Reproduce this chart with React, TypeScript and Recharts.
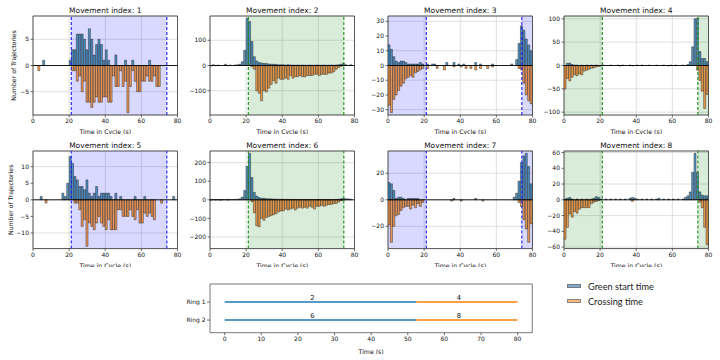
import React from 'react';
import {
  BarChart, Bar, XAxis, YAxis, CartesianGrid, ReferenceArea, ReferenceLine,
  LineChart, Line, ReferenceDot,
} from 'recharts';

// ---------------- data ----------------
const timeTicks = [0, 20, 40, 60, 80];
const cycleLength = 80;
const binWidth = 4 / 3;
const greenStart = 21.2;
const greenEnd = 74.1;

// 60 bins of 4/3 s each over the 80 s cycle
const m1Green = [0,0,0,0,1,0,0,0,0,0, 0,0,0,0,0,1,3,3,6,6, 6,5,3,7,5,2,4,5,4,1, 3,1,0,0,2,0,0,0,1,0, 0,1,0,0,0,0,0,0,1,0, 0,0,0,0,0,0,0,0,0,0];
const m1Cross = [0,0,-1,0,0,0,0,0,0,0, 0,0,0,0,0,0,-1,-1,-3,-2, -5,-3,-7,-7,-8,-7,-6,-7,-7,-6, -6,-7,-7,-2,-4,-4,-1,-4,-3,-9, -4,-1,-3,-5,-5,-3,-3,-2,-3,-3, -2,-4,-4,0,0,0,0,0,0,0];

const m2Green = [0,3,0,2,0,0,5,0,2,0, 2,3,5,15,60,187,175,95,35,18, 12,10,8,8,6,5,5,4,3,3, 3,2,3,2,2,1,2,1,2,1, 1,2,1,1,2,1,1,2,1,1, 2,1,2,3,5,8,3,0,3,0];
const m2Cross = [-2,0,-1,0,0,0,0,-1,0,0, 0,0,0,0,0,0,0,-5,-15,-100, -110,-140,-100,-105,-90,-75,-60,-70,-50,-55, -55,-50,-55,-40,-50,-45,-45,-40,-45,-45, -40,-40,-40,-35,-35,-40,-35,-35,-35,-30, -30,-25,-15,-8,-3,-2,0,0,0,0];

const m3Green = [14,11,6,3,2,3,3,2,1,1, 1,1,1,2,1,0,1,0,1,1, 0,0,0,0,2,0,0,2,0,1, 0,1,0,0,0,0,2,0,1,0, 0,0,0,1,0,0,0,0,0,0, 0,1,0,4,15,27,24,18,14,10];
const m3Cross = [-27,-32,-23,-20,-17,-14,-12,-9,-8,-7, -8,-5,-4,-3,-2,0,-2,0,0,0, -2,0,0,-3,0,0,0,-1,0,0, -1,0,-2,0,-2,0,-3,0,-2,0, 0,-2,0,-1,0,0,0,0,0,0, 0,0,0,0,-2,-3,-12,-20,-24,-26];

const m4Green = [0,5,5,2,1,1,0,1,0,1, 0,1,0,1,0,0,1,0,0,1, 0,0,1,0,1,0,0,1,0,0, 1,0,1,0,0,1,0,0,1,0, 0,1,0,0,1,0,1,0,0,1, 0,2,8,40,100,101,30,15,15,8];
const m4Cross = [-50,-28,-33,-25,-20,-22,-18,-20,-12,-10, -8,-6,-5,-3,-2,-1,0,0,0,0, 0,0,0,-1,0,0,0,0,-1,0, 0,0,0,0,0,0,0,0,0,0, 0,0,0,-1,0,0,0,0,0,0, 0,0,0,0,0,-10,-32,-55,-92,-62];

const m5Green = [0,0,0,1,0,0,0,0,0,0, 0,0,2,1,5,13,11,7,6,4, 4,3,6,2,1,2,4,1,2,2, 2,2,1,0,2,0,1,0,0,0, 0,0,1,0,0,0,1,0,0,0, 0,0,0,0,0,0,0,0,1,0];
const m5Cross = [0,0,0,0,0,-1,0,0,0,0, 0,0,0,0,0,0,0,-1,-1,-3, -8,-6,-14,-7,-8,-9,-7,-5,-7,-8, -9,-6,-9,-9,-9,-3,-3,-5,-5,-5, -3,-5,-6,-3,-7,-7,-4,-5,-4,-5, -6,0,0,-1,0,0,0,0,0,0];

const m6Green = [2,1,2,1,1,2,1,2,2,1, 2,3,5,15,50,180,250,120,40,20, 12,8,8,6,5,5,4,4,3,3, 3,2,3,2,2,2,1,2,1,2, 1,2,1,1,2,1,2,1,1,2, 1,2,2,3,5,8,5,5,3,0];
const m6Cross = [-2,0,-1,0,-2,0,0,-1,0,0, 0,0,0,0,0,0,0,-10,-70,-140, -145,-100,-110,-95,-90,-85,-80,-75,-65,-60, -60,-50,-55,-50,-45,-55,-45,-40,-45,-40, -45,-35,-40,-50,-35,-35,-30,-35,-30,-25, -25,-20,-20,-12,-5,-2,0,0,0,0];

const m7Green = [13,12,7,1,2,2,1,0,1,1, 1,1,1,0,0,0,0,0,0,0, 0,0,0,0,0,0,0,1,0,0, 0,0,0,0,0,0,1,0,0,0, 0,0,0,0,0,0,0,0,0,0, 0,0,2,5,14,28,33,35,25,12];
const m7Cross = [-19,-32,-20,-12,-11,-8,-6,-5,-5,-7, -4,-6,-3,-5,-2,0,0,0,0,0, 0,0,0,0,0,0,-1,0,0,0, -1,0,0,0,0,0,0,0,0,-1, 0,0,0,0,0,0,0,0,0,0, 0,0,0,0,-2,-5,-15,-22,-32,-18];

const m8Green = [1,2,3,1,0,1,0,1,0,1, 0,1,2,4,3,1,0,1,0,1, 0,1,0,1,0,1,0,2,3,2, 1,0,1,0,1,0,1,0,1,2, 0,1,0,1,0,1,0,1,0,1, 3,5,10,35,59,35,10,6,5,5];
const m8Cross = [-50,-35,-18,-22,-15,-17,-12,-10,-10,-10, -10,-5,-3,-2,-1,0,0,0,0,0, 0,0,0,0,0,0,0,0,-2,0, 0,0,0,0,0,0,0,0,0,0, 0,0,0,0,0,0,0,0,0,0, 0,0,0,0,0,0,-3,-10,-35,-57];

const m1Ticks = [-5, 0, 5];
const m2Ticks = [-100, 0, 100];
const m3Ticks = [-30, -20, -10, 0, 10, 20, 30];
const m4Ticks = [-100, -50, 0, 50, 100];
const m5Ticks = [-10, -5, 0, 5, 10];
const m6Ticks = [-200, -100, 0, 100, 200];
const m7Ticks = [-20, 0, 20];
const m8Ticks = [-60, -40, -20, 0, 20, 40, 60];

// ring diagram
const ringTimeTicks = [0, 10, 20, 30, 40, 50, 60, 70, 80];
const ringNames = [1, 2];
const ring1Phases = ['2', '4'];
const ring2Phases = ['6', '8'];
const phaseSplit = 52.3;

// ---------------- styling ----------------
const FONT = '"DejaVu Sans", sans-serif';
const TXT = '#111';
const BLUE = '#1f77b4';
const ORANGE = '#ff7f0e';

const fmt = (v: number) => (v < 0 ? '\u2212' + Math.abs(v) : String(v));

type PanelProps = {
  idx: number;
  green: number[];
  crossing: number[];
  yTicks: number[];
  color: 'blue' | 'green';
  inside: boolean;
  left: number;
  top: number;
  plotH: number;
  yLabelX?: number;
};

function Panel({ idx, green, crossing, yTicks, color, inside, left, top, plotH, yLabelX }: PanelProps) {
  const d = Math.max(...green.map(Math.abs), ...crossing.map(Math.abs)) * 1.05;
  const data = green.map((g, i) => ({ t: (i + 0.5) * binWidth, g, c: crossing[i] }));
  const YW = 30, MT = 14, MR = 4, XH = 19, PW = 144.5;
  const chartLeft = left - YW;
  const chartTop = top - MT;
  const shadeFill = color === 'blue' ? '#0000ff' : '#008000';
  const lineColor = color === 'blue' ? '#1a1aff' : '#1a8a1a';
  const areas: [number, number][] = inside
    ? [[greenStart, greenEnd]]
    : [[0, greenStart], [greenEnd, cycleLength]];
  const tickStyle = { fontSize: 6, fill: TXT, fontFamily: FONT };
  const yLabel = yLabelX !== undefined
    ? {
        content: () => {
          const cx = yLabelX - chartLeft;
          const cy = MT + plotH / 2;
          return (
            <text x={cx} y={cy} transform={`rotate(-90 ${cx} ${cy})`} textAnchor="middle"
              dominantBaseline="central" fontSize={6.2} fontFamily={FONT} fill={TXT}>
              Number of Trajectories
            </text>
          );
        },
      }
    : undefined;
  return (
    <div style={{ position: 'absolute', left: chartLeft, top: chartTop }}>
      <BarChart width={YW + PW + MR} height={MT + plotH + XH} data={data}
        margin={{ top: MT, right: MR, bottom: 0, left: 0 }}
        stackOffset="sign" barCategoryGap={0} barGap={0}>
        <CartesianGrid stroke="#d2d2d2" strokeWidth={0.7} />
        <XAxis dataKey="t" type="number" domain={[0, cycleLength]} ticks={timeTicks}
          allowDataOverflow axisLine={false} tickSize={2.5} tickMargin={1.5}
          tickLine={{ stroke: '#333', strokeWidth: 0.7 }} tick={tickStyle} height={XH}
          label={{ value: 'Time in Cycle (s)', position: 'insideBottom', offset: 0, fontSize: 6.2, fill: TXT, fontFamily: FONT }} />
        <YAxis type="number" domain={[-d, d]} ticks={yTicks} allowDataOverflow width={YW}
          axisLine={false} tickSize={2.5} tickMargin={1.5}
          tickLine={{ stroke: '#333', strokeWidth: 0.7 }} tick={tickStyle}
          tickFormatter={fmt} label={yLabel as any} />
        {areas.map(([a, b], k) => (
          <ReferenceArea key={k} x1={a} x2={b} y1={-d} y2={d}
            fill={shadeFill} fillOpacity={0.15} stroke="none" />
        ))}
        <Bar dataKey="g" stackId="s" fill={BLUE} fillOpacity={0.75}
          stroke="#1a1a1a" strokeWidth={0.45} isAnimationActive={false} />
        <Bar dataKey="c" stackId="s" fill={ORANGE} fillOpacity={0.7}
          stroke="#1a1a1a" strokeWidth={0.45} isAnimationActive={false} />
        <ReferenceLine y={0} stroke="#000" strokeWidth={0.9} />
        <ReferenceLine x={greenStart} stroke={lineColor} strokeDasharray="3 2" strokeWidth={1.1} />
        <ReferenceLine x={greenEnd} stroke={lineColor} strokeDasharray="3 2" strokeWidth={1.1} />
        <ReferenceArea x1={0} x2={cycleLength} y1={-d} y2={d} fill="none"
          stroke="#333" strokeWidth={0.8}
          label={{ value: `Movement index: ${idx}`, position: 'top', offset: 3, fontSize: 7.5, fill: TXT, fontFamily: FONT }} />
      </BarChart>
    </div>
  );
}

function RingChart() {
  const YW = 45, MT = 2, MR = 4, XH = 21, PW = 322.3, PH = 48.7;
  const left = 210, top = 284;
  const tickStyle = { fontSize: 6, fill: TXT, fontFamily: FONT };
  const rings = [ring1Phases, ring2Phases];
  const segs: { ring: number; label: string; start: number; end: number; color: string }[] = [];
  rings.forEach((phases, r) => {
    segs.push({ ring: ringNames[r], label: phases[0], start: 0, end: phaseSplit, color: BLUE });
    segs.push({ ring: ringNames[r], label: phases[1], start: phaseSplit, end: cycleLength, color: ORANGE });
  });
  return (
    <div style={{ position: 'absolute', left: left - YW, top: top - MT }}>
      <LineChart width={YW + PW + MR} height={MT + PH + XH} margin={{ top: MT, right: MR, bottom: 0, left: 0 }}>
        <XAxis type="number" dataKey="x" domain={[-4, 84]} ticks={ringTimeTicks} allowDataOverflow
          axisLine={false} tickSize={2.5} tickMargin={2} tickLine={{ stroke: '#333', strokeWidth: 0.7 }}
          tick={tickStyle} height={XH}
          label={{ value: 'Time (s)', position: 'insideBottom', offset: 0, fontSize: 6.2, fill: TXT, fontFamily: FONT }} />
        <YAxis type="number" dataKey="y" domain={[0, 2.7]} reversed ticks={ringNames} allowDataOverflow
          width={YW} axisLine={false} tickSize={3} tickMargin={1.5}
          tickLine={{ stroke: '#333', strokeWidth: 0.7 }} tick={tickStyle}
          tickFormatter={(v: number) => `Ring ${v}`} />
        {segs.map((s, k) => (
          <Line key={k} data={[{ x: s.start, y: s.ring }, { x: s.end, y: s.ring }]} dataKey="y"
            stroke={s.color} strokeWidth={1.4} dot={false} isAnimationActive={false} />
        ))}
        {segs.map((s, k) => (
          <ReferenceDot key={'l' + k} x={(s.start + s.end) / 2} y={s.ring} r={0} stroke="none" fill="none"
            label={{ value: s.label, position: 'top', offset: 2, dx: -8, fontSize: 6.8, fill: TXT, fontFamily: FONT } as any} />
        ))}
        <ReferenceArea x1={-4} x2={84} y1={0} y2={2.7} fill="none" stroke="#555" strokeWidth={0.8} />
      </LineChart>
    </div>
  );
}

function Legend() {
  const items = [
    { label: 'Green start time', color: BLUE, op: 0.6, cy: 286 },
    { label: 'Crossing time', color: ORANGE, op: 0.55, cy: 301 },
  ];
  return (
    <>
      {items.map((it) => (
        <React.Fragment key={it.label}>
          <div style={{
            position: 'absolute', left: 567, top: it.cy - 2.5, width: 14, height: 4.5,
            border: '0.8px solid #222', boxSizing: 'border-box', background: it.color, opacity: it.op,
          }} />
          <div style={{
            position: 'absolute', left: 588, top: it.cy - 6.5, height: 13, lineHeight: '13px',
            fontFamily: 'Lato, "Open Sans", sans-serif', fontSize: 9.2, color: '#222', whiteSpace: 'nowrap',
          }}>{it.label}</div>
        </React.Fragment>
      ))}
    </>
  );
}

export default function App() {
  const cols = [33, 210, 388, 564];
  const rowTop = [16, 150.7];
  const rowH = [99, 97.6];
  return (
    <div style={{ position: 'absolute', left: 0, top: 0, width: 720, height: 360, background: '#fff', overflow: 'hidden' }}>
      <Panel idx={1} green={m1Green} crossing={m1Cross} yTicks={m1Ticks} color="blue" inside left={cols[0]} top={rowTop[0]} plotH={rowH[0]} yLabelX={13} />
      <Panel idx={2} green={m2Green} crossing={m2Cross} yTicks={m2Ticks} color="green" inside left={cols[1]} top={rowTop[0]} plotH={rowH[0]} />
      <Panel idx={3} green={m3Green} crossing={m3Cross} yTicks={m3Ticks} color="blue" inside={false} left={cols[2]} top={rowTop[0]} plotH={rowH[0]} />
      <Panel idx={4} green={m4Green} crossing={m4Cross} yTicks={m4Ticks} color="green" inside={false} left={cols[3]} top={rowTop[0]} plotH={rowH[0]} />
      <Panel idx={5} green={m5Green} crossing={m5Cross} yTicks={m5Ticks} color="blue" inside left={cols[0]} top={rowTop[1]} plotH={rowH[1]} yLabelX={10} />
      <Panel idx={6} green={m6Green} crossing={m6Cross} yTicks={m6Ticks} color="green" inside left={cols[1]} top={rowTop[1]} plotH={rowH[1]} />
      <Panel idx={7} green={m7Green} crossing={m7Cross} yTicks={m7Ticks} color="blue" inside={false} left={cols[2]} top={rowTop[1]} plotH={rowH[1]} />
      <Panel idx={8} green={m8Green} crossing={m8Cross} yTicks={m8Ticks} color="green" inside={false} left={cols[3]} top={rowTop[1]} plotH={rowH[1]} />
      <RingChart />
      <Legend />
    </div>
  );
}
